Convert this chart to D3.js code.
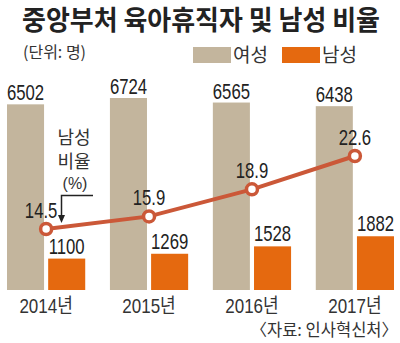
<!DOCTYPE html>
<html><head><meta charset="utf-8">
<script src="https://cdn.jsdelivr.net/npm/d3@7"></script>
<style>body{margin:0;background:#fff}svg{display:block}</style>
</head><body>
<script>
const years = ["2014년","2015년","2016년","2017년"];
const female = [6502, 6724, 6565, 6438];
const male = [1100, 1269, 1528, 1882];
const maleRatio = [14.5, 15.9, 18.9, 22.6];
const seriesNames = ["여성","남성"];
const colors = {female:"#c3b59d", male:"#e5690f", line:"#cb5838"};
const numFont = "'Liberation Sans', Arial, sans-serif";
const krFont = "'Noto Sans CJK KR', 'Noto Sans', sans-serif";

const W = 400, H = 343;
const svg = d3.select("body").append("svg").attr("width", W).attr("height", H);

const x0 = d3.scaleBand().domain(years).range([7, 394]).paddingInner(0.24).paddingOuter(0);
const x1 = d3.scaleBand().domain(seriesNames).range([0, x0.bandwidth()]).paddingInner(0.1);
const y = d3.scaleLinear().domain([0, 6724]).range([290, 98]);
const yr = d3.scaleLinear().domain([14.5, 22.6]).range([229, 156]);

function ctext(g, x, yy, txt, size, sx, anchor, font, fill, weight){
  const t = g.append("g").attr("transform", `translate(${x},${yy}) scale(${sx},1)`)
    .append("text").attr("text-anchor", anchor||"middle")
    .attr("font-family", font||numFont).attr("font-size", size)
    .attr("fill", fill||"#222").text(txt);
  if (weight) t.attr("font-weight", weight);
  return t;
}

// title
svg.append("text").attr("x", 22).attr("y", 30).attr("font-family", krFont)
  .attr("font-weight", "bold").attr("font-size", 27).attr("fill", "#222")
  .attr("textLength", 358).attr("lengthAdjust", "spacingAndGlyphs")
  .text("중앙부처 육아휴직자 및 남성 비율");
svg.append("text").attr("x", 23).attr("y", 58).attr("font-family", krFont)
  .attr("font-size", 16).attr("fill", "#333").text("(단위: 명)");

// legend
const leg = [{n:seriesNames[0], c:colors.female, x:193},{n:seriesNames[1], c:colors.male, x:282}];
leg.forEach(d=>{
  svg.append("rect").attr("x", d.x).attr("y", 47).attr("width", 38).attr("height", 16).attr("fill", d.c);
  svg.append("text").attr("x", d.x+40).attr("y", 62).attr("font-family", krFont)
    .attr("font-size", 19).attr("fill", "#333").text(d.n);
});

// bars
const groups = svg.append("g").selectAll("g").data(years).join("g")
  .attr("transform", d => `translate(${x0(d)},0)`);
groups.append("rect").attr("x", x1("여성")).attr("width", x1.bandwidth())
  .attr("y", (d,i)=>y(female[i])).attr("height", (d,i)=>y(0)-y(female[i])).attr("fill", colors.female);
groups.append("rect").attr("x", x1("남성")).attr("width", x1.bandwidth())
  .attr("y", (d,i)=>y(male[i])).attr("height", (d,i)=>y(0)-y(male[i])).attr("fill", colors.male);

// bar labels
years.forEach((yy,i)=>{
  ctext(svg, x0(yy)+x1("여성")+x1.bandwidth()/2, y(female[i])-4, female[i], 22, 0.76);
  ctext(svg, x0(yy)+x1("남성")+x1.bandwidth()/2, y(male[i])-5, male[i], 22, 0.76);
  ctext(svg, x0(yy)+x0.bandwidth()/2, 313, yy, 20, 0.85, "middle", numFont+", "+krFont, "#333");
});

// line
const cx = d => x0(d) + x0.bandwidth()/2;
const pts = years.map((d,i)=>[cx(d), yr(maleRatio[i])]);
svg.append("path").attr("d", d3.line()(pts)).attr("fill","none")
  .attr("stroke", colors.line).attr("stroke-width", 4);
svg.selectAll("circle.pt").data(pts).join("circle").attr("class","pt")
  .attr("cx", d=>d[0]).attr("cy", d=>d[1]).attr("r", 5.5)
  .attr("fill", "#fff").attr("stroke", colors.line).attr("stroke-width", 3.5);
pts.forEach((p,i)=>{
  const dx = i===0 ? -5 : 0;
  ctext(svg, p[0]+dx, p[1]-11, maleRatio[i], 22, 0.76);
});

// annotation
ctext(svg, 74, 144, "남성", 18, 1, "middle", krFont, "#333");
ctext(svg, 74, 168, "비율", 18, 1, "middle", krFont, "#333");
ctext(svg, 75, 189, "(%)", 16, 1, "middle", numFont, "#333");
svg.append("path").attr("d", "M93,195.5H61.5V218").attr("fill","none").attr("stroke","#222").attr("stroke-width",1.5);
svg.append("path").attr("d", "M58,215L61.5,223L65,215Z").attr("fill","#222");

// source
svg.append("text").attr("x", 398).attr("y", 336).attr("text-anchor","end").attr("font-family", krFont)
  .attr("font-size", 16.5).attr("fill", "#333").text("〈자료: 인사혁신처〉");
</script>
</body></html>
